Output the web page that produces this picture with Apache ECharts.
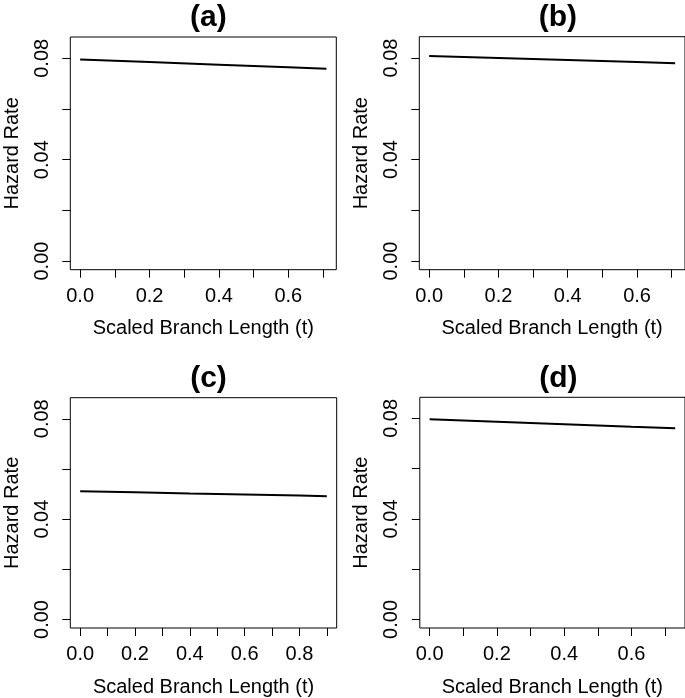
<!DOCTYPE html>
<html>
<head>
<meta charset="utf-8">
<script src="https://cdn.jsdelivr.net/npm/echarts@6/dist/echarts.min.js"></script>
<style>
html,body{margin:0;padding:0;background:#fff;}
#chart{width:685px;height:698px;}
</style>
</head>
<body>
<div id="chart"></div>
<script>
// ---- data ----
var panelTitles = ['(a)', '(b)', '(c)', '(d)'];
var tA = [0, 0.2, 0.4, 0.6, 0.71];
var hazardA = [0.0795, 0.0785, 0.0775, 0.0765, 0.0759];
var tB = [0, 0.2, 0.4, 0.6, 0.71];
var hazardB = [0.0808, 0.0800, 0.0792, 0.0784, 0.0779];
var tC = [0, 0.2, 0.4, 0.6, 0.8, 0.9];
var hazardC = [0.0511, 0.0507, 0.0502, 0.0498, 0.0494, 0.0491];
var tD = [0, 0.2, 0.4, 0.6, 0.73];
var hazardD = [0.0797, 0.0787, 0.0777, 0.0767, 0.0761];
var yTicks = [0, 0.02, 0.04, 0.06, 0.08];
var yTickLabels = [0, 0.04, 0.08];
var xTicksAB = [0, 0.1, 0.2, 0.3, 0.4, 0.5, 0.6, 0.7];
var xTickLabelsAB = [0, 0.2, 0.4, 0.6];
var xTicksC = [0, 0.1, 0.2, 0.3, 0.4, 0.5, 0.6, 0.7, 0.8, 0.9];
var xTickLabelsC = [0, 0.2, 0.4, 0.6, 0.8];
var xTicksD = [0, 0.1, 0.2, 0.3, 0.4, 0.5, 0.6, 0.7];
var xTickLabelsD = [0, 0.2, 0.4, 0.6];
var xLabel = 'Scaled Branch Length (t)';
var yLabel = 'Hazard Rate';

// ---- layout ----
var FONT = '"Liberation Sans", Arial, Helvetica, sans-serif';
var panels = [
  {t: tA, h: hazardA, T: 0.71, xt: xTicksAB, xl: xTickLabelsAB, left: 70.3, top: 37, width: 266, height: 232.7},
  {t: tB, h: hazardB, T: 0.71, xt: xTicksAB, xl: xTickLabelsAB, left: 419.3, top: 36.7, width: 267, height: 233},
  {t: tC, h: hazardC, T: 0.90, xt: xTicksC, xl: xTickLabelsC, left: 70.3, top: 397.7, width: 266.4, height: 232.3},
  {t: tD, h: hazardD, T: 0.73, xt: xTicksD, xl: xTickLabelsD, left: 419.8, top: 397.3, width: 267, height: 232.7}
];

var grids = [], xAxes = [], yAxes = [], series = [], titles = [];
panels.forEach(function (p, i) {
  grids.push({left: p.left, top: p.top, width: p.width, height: p.height,
    show: true, borderColor: '#000', borderWidth: 1, backgroundColor: 'transparent', containLabel: false});
  titles.push({text: panelTitles[i], left: p.left + p.width / 2, top: p.top - 39, textAlign: 'center',
    textStyle: {fontFamily: FONT, fontSize: 30, fontWeight: 'bold', color: '#000'}});
  xAxes.push({type: 'value', gridIndex: i, min: -0.04 * p.T, max: 1.04 * p.T,
    splitLine: {show: false}, axisLine: {show: false, onZero: false},
    axisTick: {show: true, length: 8, inside: false, customValues: p.xt, lineStyle: {color: '#000', width: 1}},
    axisLabel: {show: true, customValues: p.xl, margin: 16.5, color: '#000', fontFamily: FONT, fontSize: 20,
      formatter: function (v) { return v.toFixed(1); }},
    name: xLabel, nameLocation: 'middle', nameGap: 49,
    nameTextStyle: {fontFamily: FONT, fontSize: 20, color: '#000'}});
  yAxes.push({type: 'value', gridIndex: i, min: -0.0034, max: 0.0884,
    splitLine: {show: false}, axisLine: {show: false, onZero: false},
    axisTick: {show: true, length: 8, inside: false, customValues: yTicks, lineStyle: {color: '#000', width: 1}},
    axisLabel: {show: true, customValues: yTickLabels, rotate: 90, margin: 18, color: '#000', fontFamily: FONT, fontSize: 20,
      formatter: function (v) { return v.toFixed(2); }},
    name: yLabel, nameLocation: 'middle', nameGap: 48, nameRotate: 90,
    nameTextStyle: {fontFamily: FONT, fontSize: 20, color: '#000'}});
  series.push({type: 'line', xAxisIndex: i, yAxisIndex: i, showSymbol: false, symbol: 'none',
    data: p.t.map(function (x, k) { return [x, p.h[k]]; }),
    lineStyle: {color: '#000', width: 2}, animation: false, silent: true});
});

var chart = echarts.init(document.getElementById('chart'), null, {renderer: 'canvas'});
chart.setOption({
  animation: false,
  backgroundColor: '#fff',
  title: titles,
  grid: grids,
  xAxis: xAxes,
  yAxis: yAxes,
  series: series
});
</script>
</body>
</html>
